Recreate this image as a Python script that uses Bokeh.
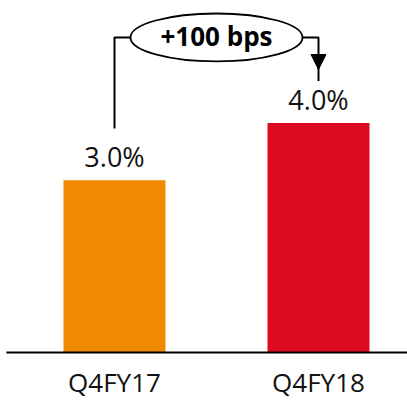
from bokeh.plotting import figure
from bokeh.models import Range1d, Arrow, NormalHead, ColumnDataSource
from bokeh.core.properties import value
from bokeh.embed import file_html
from bokeh.resources import INLINE

categories = ["Q4FY17", "Q4FY18"]
values = [3.0, 4.0]
value_labels = ["3.0%", "4.0%"]
bar_colors = ["#F08A00", "#DC0A1E"]
change_label = "+100 bps"

FONT = "Open Sans"
xpos = [0.5, 1.5]

p = figure(width=407, height=403, output_backend="svg", toolbar_location=None,
           x_range=Range1d(-0.0588, 1.9363), y_range=Range1d(-0.8885, 6.132),
           min_border=0, outline_line_color=None)
p.axis.visible = False
p.grid.visible = False
p.background_fill_color = "white"
p.border_fill_color = "white"

src = ColumnDataSource(dict(x=xpos, top=values, color=bar_colors, cat=categories,
                            lab=value_labels,
                            laby=[v + 0.41 for v in values]))

p.vbar(x="x", top="top", bottom=0, width=0.5, fill_color="color", line_color=None, source=src)

# baseline axis line
p.segment(x0=[-0.03], y0=[0], x1=[2.0], y1=[0], line_color="black", line_width=2)

# category labels
p.text(x="x", y=-0.52, text="cat", source=src, text_font=value(FONT),
       text_font_size="26px", text_align="center", text_baseline="alphabetic",
       text_color="#111111")

# value labels
p.text(x="x", y="laby", text="lab", source=src, text_font=value(FONT),
       text_font_size="27px", text_align="center", text_baseline="alphabetic",
       text_color="#111111")

# bracket
bracket_y = max(values) + 1.488
start_y = values[0] + 0.9
end_y = values[1] + 0.93
p.line(x=[xpos[0], xpos[0], xpos[1], xpos[1]],
       y=[start_y, bracket_y, bracket_y, end_y - 0.2],
       line_color="black", line_width=2)
p.add_layout(Arrow(end=NormalHead(size=15, fill_color="black", line_color="black", line_width=1),
                   x_start=xpos[1], y_start=bracket_y - 0.3, x_end=xpos[1], y_end=end_y,
                   line_color="black", line_width=2))
mid_x = (xpos[0] + xpos[1]) / 2
p.ellipse(x=[mid_x], y=[bracket_y], width=172, height=48, width_units="screen",
          height_units="screen", fill_color="white", line_color="black", line_width=1.8)
p.text(x=[mid_x], y=[bracket_y + 0.02], text=[change_label], text_font=value(FONT),
       text_font_style="bold", text_font_size="26px", text_align="center",
       text_baseline="alphabetic", text_color="black")

open("out.html", "w").write(file_html(p, INLINE))
